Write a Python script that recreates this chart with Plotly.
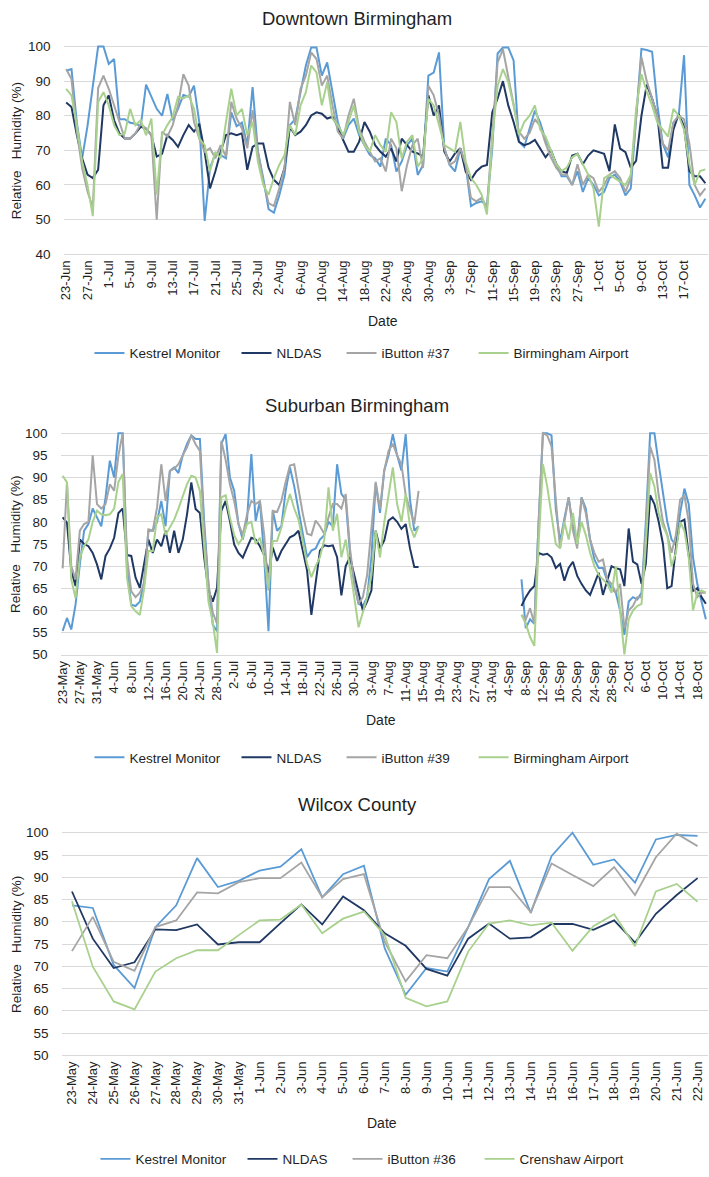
import pandas as pd
import plotly.graph_objects as go

W, H = 709, 1177

# ---------------- Panel 1: Downtown Birmingham (23-Jun .. 21-Oct) ----------------
dt_start = "2019-06-23"
dt_kestrel = [93, 93.5, 78, 67.7, 77, 88.7, 100, 100, 95, 96.4, 79, 79, 78, 77.7, 77, 89, 85.4, 82, 80, 86.3,
              78.7, 82, 86, 85.5, 88.7, 78, 49.6, 64.9, 69, 68.7, 67.7, 81, 77, 78, 71.5, 88.3, 69.6, 62, 53, 52,
              57, 63, 77.3, 79, 86.8, 94.5, 99.7, 99.7, 91.6, 95.4, 86.8, 78.2, 73.4, 77.3, 79.2, 74.4, 71.5, 68.7,
              67.7, 65.3, 73.4, 71.5, 63.9, 66.8, 71.5, 73.4, 62.9, 65.8, 91.6, 92.5, 98.3, 70.6, 65.8, 63.9, 70.6,
              65.8, 53.9, 54.8, 55.3, 53.9, 70.6, 98, 99.7, 99.7, 96, 72.5, 71, 76, 81.5, 78, 73, 70, 66, 62.5,
              62.5, 60, 64, 58, 62, 60, 57, 58, 62, 63, 61, 57, 59, 80, 99.3, 99, 98.5, 83, 72, 68, 78, 80, 97.5,
              60, 57, 53.5, 56]
dt_nldas = [83.8, 82.5, 74.4, 67.7, 63, 62, 64.4, 83, 85.9, 78.7, 74.9, 73.4, 73.4, 74.9, 76.8, 76.3, 74.4, 68.2,
            69, 74.4, 73, 71, 74.4, 77.3, 75.4, 77.7, 69.6, 59, 63.9, 69.6, 74.4, 74.9, 74.4, 74.9, 64.4, 71, 72,
            72, 65, 61.5, 60, 65, 76.8, 74.4, 75.4, 77.3, 80.1, 81, 80.6, 79.2, 79.7, 76.8, 73, 69.6, 69.6, 72.5,
            78.2, 75.4, 71.5, 69.6, 68.2, 70.6, 66.8, 73.4, 71.5, 69.6, 69.1, 68.2, 85.9, 80.1, 83, 69.6, 66.8,
            69.1, 70.6, 63.9, 61.5, 63.9, 65.3, 65.8, 81, 85, 90, 83, 78.2, 72.5, 71.5, 72, 73, 70.5, 68, 70, 66,
            64, 63.5, 68.5, 69, 66, 68.5, 70, 69.5, 69, 64, 77.5, 70.5, 69.5, 65, 67, 80, 89, 85, 80, 65, 65, 76,
            80.5, 77, 64, 62.5, 62.5, 60.5]
dt_ibutton = [93.5, 90.6, 75.4, 64.9, 58.2, 53.4, 88, 91.6, 87.8, 83, 78.2, 73.4, 73.4, 74.9, 77.7, 76.3, 74.4, 50,
              75.4, 74, 77.3, 83, 92, 88.7, 78.2, 73.4, 69.6, 70.6, 67.7, 71.5, 68.2, 84, 79.2, 76.3, 70.6, 81.6,
              69.6, 61, 54.8, 53.9, 59, 65, 84, 77.3, 87.8, 91.6, 98.3, 96.4, 88.7, 91.6, 83, 75.4, 73.4, 80.1,
              84.9, 76.3, 72.5, 69.6, 66.8, 67.7, 63.9, 73.4, 70.6, 58.2, 65.8, 71.5, 73.4, 64.9, 88.7, 85.9, 80.1,
              70.6, 65.8, 66.8, 70.6, 65.8, 56.3, 55.3, 56.3, 53.4, 75.4, 95.4, 99.2, 91.6, 83, 75.4, 73.4, 75, 79,
              77, 72, 68, 65, 63, 63, 60, 66, 60, 63, 62, 58, 60, 63, 64, 62, 58, 62, 80, 97, 90, 85, 80, 72, 70,
              78, 80, 79, 72, 60, 57, 59]
dt_airport = [87.8, 85.9, 77.3, 66.8, 60, 51, 84, 86.8, 83, 77.3, 74.4, 74.9, 82, 77.3, 78.7, 74.4, 79.2, 57.2,
              74.4, 77.3, 79.7, 85.4, 85, 85.9, 82, 73.4, 71.5, 63.9, 69.6, 67.7, 78.2, 87.8, 80.1, 82, 74.4, 78.2,
              66.8, 60, 57.2, 62, 65.8, 68.7, 77.3, 74.4, 83, 86.8, 94.5, 92.5, 83, 89.7, 79.2, 77.3, 74.4, 78.2,
              83, 75.4, 71.5, 69.6, 74.4, 71.5, 69.6, 81, 78.2, 67.7, 72.5, 74.4, 65.3, 67.7, 84.9, 83, 77.3, 71.5,
              70.6, 69.6, 78.2, 66.8, 62, 60, 57.2, 51.5, 73.4, 88.7, 93.5, 89.7, 83, 74.4, 78.2, 80, 83, 76, 74,
              70, 66, 64, 65, 68, 69, 66, 63, 59, 48, 62, 63, 62, 61, 60, 63, 82, 92, 87, 83, 78, 76, 74, 82, 80,
              76, 66, 60, 64, 64.5]

# ---------------- Panel 2: Suburban Birmingham (23-May .. 20-Oct, gap mid Aug - early Sep) ----------------
sub_start = "2019-05-23"
sub_gap_len = 23
sub_kestrel_a = [55.4, 58.3, 55.7, 61.3, 70.4, 78, 79.5, 83, 81, 79, 85.5, 93.8, 90, 100, 100, 69.6, 61.3, 61, 62,
                 66.6, 78, 78, 80, 84.7, 79, 91.5, 92.3, 91, 95, 97.6, 99.5, 98.7, 98.7, 80, 66, 56.8, 55.3, 97.6,
                 99.8, 90, 87, 79.5, 76, 80.5, 95.3, 80.2, 84.7, 71.9, 55.3, 82.5, 78, 79, 87, 92.3, 88, 83, 77.3,
                 72, 73.5, 74, 76, 77, 80, 79, 93, 86.3, 85, 73, 66, 61.5, 61, 63, 72, 88.6, 82, 91.6, 95, 99.8, 95,
                 91.6, 99.8, 85, 78, 79]
sub_kestrel_b = [67, 56, 58, 57, 80, 100, 100, 99.5, 83, 75.5, 80.7, 85.5, 79, 75, 85.5, 83, 76, 71.5, 69.6, 69.6,
                 66.7, 65, 64, 60, 54.5, 62, 63, 62.5, 64, 80, 100, 100, 93, 86, 80, 76, 74.8, 82, 87.5, 84, 72, 66,
                 62, 58]
sub_nldas_a = [81, 79.8, 69, 65.5, 76, 75, 74.5, 73, 70.4, 67, 72.3, 74, 76.4, 82, 83, 72.5, 72.3, 67.4, 65.1, 70.4,
               76, 73, 76, 74.5, 78, 73, 78, 73, 76, 81.7, 88.9, 82.9, 82, 72, 64.5, 62, 65.1, 82.5, 84.7, 80.2,
               74.9, 73, 71.9, 74.2, 76.4, 76, 74.5, 72.5, 68.5, 74.2, 71.2, 73.4, 75, 76.5, 77, 78, 73.5, 69, 59,
               66.8, 73.5, 74.7, 74.5, 74.7, 72, 63.4, 70, 72, 68, 63.8, 60, 62, 64.5, 78, 74, 75.8, 80.3, 81, 80,
               78.4, 79.5, 74, 69.8, 69.8]
sub_nldas_b = [61, 63, 64.5, 65.5, 73, 72.6, 72.8, 72, 69.6, 70.5, 66.7, 69.6, 71, 67.8, 66, 64.5, 63.5, 66, 68.5,
               63.5, 67, 70, 69.5, 69.3, 65.5, 78.5, 71, 70.4, 66, 70.5, 86, 84, 80, 75, 65, 65.5, 74, 80, 80.5,
               72.6, 64.4, 65, 63, 61.5]
sub_ibutton_a = [69.5, 89, 70, 67, 78, 79.5, 80, 95, 84, 83, 84, 88.5, 87, 95, 100, 72, 64.3, 63, 64, 66, 78.3, 78,
                 83.2, 93, 84.7, 91.5, 92, 93, 95, 96.8, 99.5, 97.5, 96, 78, 66, 59.5, 57, 98.3, 94, 88.5, 84.7,
                 79.5, 77, 81.7, 84.7, 84, 84.7, 77, 64.5, 82.5, 82.2, 84.7, 89, 92.7, 93, 87, 81.8, 77.3, 77, 80.3,
                 79, 77.3, 81, 84, 84, 83, 86.3, 74, 66, 61.5, 63, 68, 79, 89, 83, 91.6, 96, 97.6, 95, 93, 86, 83,
                 79.5, 87]
sub_ibutton_b = [59, 58, 60.5, 57, 80, 100, 99.5, 97, 85, 74, 80, 85.5, 78, 74, 85.5, 82, 76, 73, 71, 71.5, 67, 66,
                 64, 66, 56, 60, 61, 63, 63, 78, 97, 94, 86, 80, 77, 73, 77, 85, 86, 80, 66, 63, 64, 64]
sub_airport_a = [90.4, 88.9, 67, 62.8, 72, 74.5, 76, 80, 82.5, 81.7, 81.5, 81.7, 83, 89, 90.8, 67.4, 61, 59.8, 59,
                 65, 73.4, 73.4, 81, 81.7, 77, 78.7, 80.5, 83, 86, 88.5, 90.4, 90, 87, 75, 62, 57.4, 50.4, 85.5, 86,
                 81, 77, 75, 76.4, 79.5, 80, 75, 76.4, 72, 65, 75.7, 75.7, 78.7, 83, 86.3, 83, 80.5, 75.8, 70.5,
                 67.5, 70, 72, 76, 87.8, 78, 81.8, 72, 76, 70, 63, 56.2, 59.5, 63, 68, 78, 72, 80, 86, 92.3, 84, 80,
                 86.3, 79, 76.5, 79]
sub_airport_b = [59, 57, 54, 52, 75, 93, 88, 82, 75, 74, 80, 76, 82, 75, 80, 77, 73, 70, 68, 67, 66, 64, 70, 60, 50,
                 58, 60, 61, 61.5, 75, 91, 88, 82, 79, 77, 70, 73, 80, 78, 72, 60, 64, 64.5, 64]

# ---------------- Panel 3: Wilcox County (23-May .. 22-Jun) ----------------
wc_start = "2019-05-23"
wc_kestrel = [83.7, 83.1, 70.3, 65.1, 78.8, 83.7, 94.3, 87.8, 89.2, 91.5, 92.4, 96.3, 85.5, 90.7, 92.6, 74, 63.6,
              69.6, 68.8, 78.8, 89.6, 93.7, 82, 94.8, 100, 92.8, 94, 88.8, 98.5, 99.5, 99.3]
wc_nldas = [86.8, 76.2, 69.6, 70.9, 78.3, 78.1, 79.4, 74.9, 75.4, 75.4, 79.7, 83.9, 79.4, 85.7, 82.6, 77.4, 74.6,
            69.4, 67.9, 76.2, 79.6, 76.2, 76.5, 79.5, 79.5, 78.2, 80.3, 75.3, 81.8, 86, 89.8]
wc_ibutton = [73.4, 81.1, 71, 69, 78.8, 80.3, 86.6, 86.4, 88.9, 89.8, 89.8, 93.3, 85.5, 89.6, 90.7, 75.5, 66.6, 72.5,
              71.8, 78.8, 87.8, 87.8, 82.2, 93.1, 90.5, 88, 92.3, 86, 94.5, 99.8, 97]
wc_airport = [84.6, 69.9, 62.1, 60.3, 68.8, 71.8, 73.6, 73.6, 77, 80.3, 80.5, 83.9, 77.4, 80.7, 82.3, 77, 62.9, 61,
              62.1, 73.3, 79.6, 80.3, 79.2, 79.8, 73.5, 79, 81.7, 74.5, 86.8, 88.5, 84.5]

panel_titles = ["Downtown Birmingham", "Suburban Birmingham", "Wilcox County"]
legend_names = [
    ["Kestrel Monitor", "NLDAS", "iButton #37", "Birmingham Airport"],
    ["Kestrel Monitor", "NLDAS", "iButton #39", "Birmingham Airport"],
    ["Kestrel Monitor", "NLDAS", "iButton #36", "Crenshaw Airport"],
]
y_title = "Relative" + "\u00a0" * 3 + "Humidity (%)"
y_ranges = [(40, 100, 10), (50, 100, 5), (50, 100, 5)]
tick_steps = [4, 4, 1]
colors = ["#5B9BD5", "#1F3864", "#A5A5A5", "#A9D18E"]

# ---- assemble series ----
sub_total = len(sub_kestrel_a) + sub_gap_len + len(sub_kestrel_b)
gap = [None] * sub_gap_len
panels = [
    (pd.date_range(dt_start, periods=len(dt_kestrel)), [dt_kestrel, dt_nldas, dt_ibutton, dt_airport]),
    (pd.date_range(sub_start, periods=sub_total),
     [sub_kestrel_a + gap + sub_kestrel_b, sub_nldas_a + gap + sub_nldas_b,
      sub_ibutton_a + gap + sub_ibutton_b, sub_airport_a + gap + sub_airport_b]),
    (pd.date_range(wc_start, periods=len(wc_kestrel)), [wc_kestrel, wc_nldas, wc_ibutton, wc_airport]),
]

# ---- layout geometry (pixels) ----
plot_x = [(58, 708), (55, 708), (56, 708)]
plot_y = [(42, 252), (433, 657), (837, 1062)]   # y of top value / bottom value
title_y = [14, 405, 808]
date_y = [320, 723, 1130]
legend_y = [352, 761, 1167]
line_w = [2.0, 2.0, 1.8]
legend_pad = [3, 4, 5, 0]   # trailing spaces after each legend entry

FONT = "Liberation Sans, Arial, sans-serif"
TXT = "#1f1f1f"


def px(x):
    return x / W


def py(y):
    return 1 - y / H


fig = go.Figure()
layout = dict(
    width=W, height=H, margin=dict(l=0, r=0, t=0, b=0),
    paper_bgcolor="white", plot_bgcolor="white",
    font=dict(family=FONT, color=TXT, size=13),
    annotations=[],
)

for i, (dates, series) in enumerate(panels):
    n = i + 1
    xa = "x" if n == 1 else f"x{n}"
    ya = "y" if n == 1 else f"y{n}"
    lg = "legend" if n == 1 else f"legend{n}"
    for j, vals in enumerate(series):
        fig.add_trace(go.Scatter(
            x=dates, y=vals, mode="lines", name=legend_names[i][j] + "\u00a0" * legend_pad[j],
            line=dict(color=colors[j], width=line_w[i]),
            connectgaps=False, xaxis=xa, yaxis=ya, legend=lg,
        ))
    y0, y1, dy = y_ranges[i]
    top_px, bot_px = plot_y[i]
    ppu = (bot_px - top_px) / (y1 - y0)
    pad = 0.6
    tickvals = list(dates[::tick_steps[i]])
    ticktext = [f"{d.day}-{d.strftime('%b')}" for d in tickvals]
    half = pd.Timedelta(hours=12)
    layout["xaxis" if n == 1 else f"xaxis{n}"] = dict(
        domain=[px(plot_x[i][0]), px(plot_x[i][1])], anchor=ya, type="date",
        range=[dates[0] - half, dates[-1] + half],
        tickmode="array", tickvals=tickvals, ticktext=ticktext, tickangle=-90,
        tickfont=dict(size=13, family=FONT, color=TXT),
        showgrid=False, showline=True, linecolor="#D9D9D9", linewidth=1,
        ticks="", zeroline=False, fixedrange=True,
    )
    layout["yaxis" if n == 1 else f"yaxis{n}"] = dict(
        domain=[py(bot_px), py(top_px - pad * ppu)], anchor=xa,
        range=[y0, y1 + pad], tick0=y0, dtick=dy,
        tickfont=dict(size=13.5, family=FONT, color=TXT),
        showgrid=True, gridcolor="#D9D9D9", gridwidth=1, zeroline=False,
        showline=False, ticks="", ticklabelstandoff=12, fixedrange=True,
    )
    layout[lg] = dict(
        orientation="h", x=px(359), xanchor="center", y=py(legend_y[i]), yanchor="middle",
        font=dict(size=13.5, family=FONT, color=TXT), bgcolor="rgba(0,0,0,0)",
        itemwidth=30, tracegroupgap=0,
    )
    cx = (plot_x[i][0] + plot_x[i][1]) / 2
    layout["annotations"] += [
        dict(text=panel_titles[i], x=px(354), y=py(title_y[i]), xref="paper", yref="paper",
             showarrow=False, font=dict(size=18.5, family=FONT, color=TXT), xanchor="center", yanchor="middle"),
        dict(text="Date", x=px(cx - 3), y=py(date_y[i]), xref="paper", yref="paper",
             showarrow=False, font=dict(size=14, family=FONT, color=TXT), xanchor="center", yanchor="middle"),
        dict(text=y_title, x=px(10), y=py((top_px + bot_px) / 2), xref="paper", yref="paper",
             showarrow=False, textangle=-90, font=dict(size=13.5, family=FONT, color=TXT),
             xanchor="center", yanchor="middle"),
    ]

fig.update_layout(**layout)
fig.write_html("out.html", config={"displayModeBar": False},
               post_script="document.body.style.margin='0';")
